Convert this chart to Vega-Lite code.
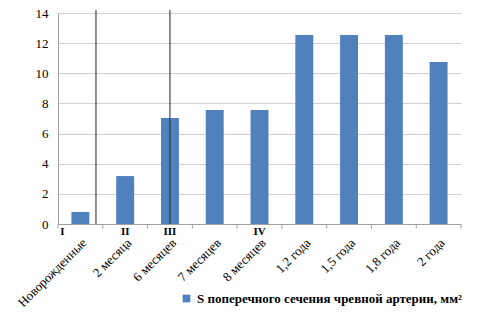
{
  "$schema": "https://vega.github.io/schema/vega-lite/v6.json",
  "autosize": "none",
  "width": 403,
  "height": 211,
  "padding": {"left": 58, "top": 13, "right": 28, "bottom": 101},
  "background": "white",
  "config": {
    "view": {"stroke": null},
    "font": "Liberation Serif",
    "axis": {"labelFont": "Liberation Serif", "labelFontSize": 13, "labelColor": "black", "ticks": false, "domainColor": "#a0a0a0", "gridColor": "#d0d0d0", "labelOverlap": false, "title": null},
    "axisX": {"labelAngle": -45, "labelPadding": 12, "grid": false},
    "axisY": {"tickCount": 7, "labelPadding": 10, "grid": true},
    "legend": {"labelFont": "Liberation Serif"}
  },
  "datasets": {
    "main": [
      {"cat": "Новорожденные", "value": 0.8, "series": "S поперечного сечения чревной артерии, мм²"},
      {"cat": "2 месяца", "value": 3.18, "series": "S поперечного сечения чревной артерии, мм²"},
      {"cat": "6 месяцев", "value": 7.03, "series": "S поперечного сечения чревной артерии, мм²"},
      {"cat": "7 месяцев", "value": 7.56, "series": "S поперечного сечения чревной артерии, мм²"},
      {"cat": "8 месяцев", "value": 7.56, "series": "S поперечного сечения чревной артерии, мм²"},
      {"cat": "1,2 года", "value": 12.54, "series": "S поперечного сечения чревной артерии, мм²"},
      {"cat": "1,5 года", "value": 12.54, "series": "S поперечного сечения чревной артерии, мм²"},
      {"cat": "1,8 года", "value": 12.54, "series": "S поперечного сечения чревной артерии, мм²"},
      {"cat": "2 года", "value": 10.75, "series": "S поперечного сечения чревной артерии, мм²"}
    ],
    "stages": [
      {"cat": "Новорожденные", "label": "I", "y": -0.55},
      {"cat": "2 месяца", "label": "II", "y": -0.55},
      {"cat": "6 месяцев", "label": "III", "y": -0.55},
      {"cat": "8 месяцев", "label": "IV", "y": -0.55}
    ],
    "lines": [
      {"cat": "Новорожденные", "y0": 0, "y1": 14.2},
      {"cat": "6 месяцев", "y0": 0, "y1": 14.2}
    ]
  },
  "layer": [
    {
      "data": {"name": "main"},
      "mark": {"type": "bar", "color": "#4f81bd"},
      "encoding": {
        "x": {
          "field": "cat", "type": "nominal", "sort": null, "title": null,
          "scale": {"paddingInner": 0.6, "paddingOuter": 0.3,
            "domain": ["Новорожденные", "2 месяца", "6 месяцев", "7 месяцев", "8 месяцев", "1,2 года", "1,5 года", "1,8 года", "2 года"]}
        },
        "y": {
          "field": "value", "type": "quantitative", "title": null,
          "scale": {"domain": [0, 14], "nice": false, "zero": false}
        },
        "color": {
          "field": "series", "type": "nominal", "title": null,
          "scale": {"range": ["#4f81bd"]},
          "legend": {"orient": "none", "legendX": 122, "legendY": 279, "symbolType": "square", "symbolSize": 60, "labelFont": "Liberation Serif", "labelFontSize": 13, "labelFontWeight": "bold", "labelColor": "black", "labelLimit": 400}
        }
      }
    },
    {
      "data": {"name": "main"},
      "mark": {"type": "rule", "color": "#a0a0a0"},
      "encoding": {
        "x": {"field": "cat", "type": "nominal", "sort": null, "bandPosition": -0.75},
        "y": {"datum": 0},
        "y2": {"datum": -0.3}
      }
    },
    {
      "data": {"name": "main"},
      "transform": [{"filter": "datum.cat === '2 года'"}],
      "mark": {"type": "rule", "color": "#a0a0a0"},
      "encoding": {
        "x": {"field": "cat", "type": "nominal", "sort": null, "bandPosition": 1.75},
        "y": {"datum": 0},
        "y2": {"datum": -0.3}
      }
    },
    {
      "data": {"name": "lines"},
      "transform": [{"filter": "datum.cat === 'Новорожденные'"}],
      "mark": {"type": "rule", "color": "#222222"},
      "encoding": {
        "x": {"field": "cat", "type": "nominal", "sort": null, "bandPosition": 1.37},
        "y": {"field": "y0", "type": "quantitative"},
        "y2": {"field": "y1"}
      }
    },
    {
      "data": {"name": "lines"},
      "transform": [{"filter": "datum.cat === '6 месяцев'"}],
      "mark": {"type": "rule", "color": "#222222"},
      "encoding": {
        "x": {"field": "cat", "type": "nominal", "sort": null, "bandPosition": 0.5},
        "y": {"field": "y0", "type": "quantitative"},
        "y2": {"field": "y1"}
      }
    },
    {
      "data": {"name": "stages"},
      "transform": [{"filter": "datum.label === 'I'"}],
      "mark": {"type": "text", "font": "Liberation Serif", "fontSize": 11, "fontWeight": "bold", "color": "black", "baseline": "middle", "align": "center"},
      "encoding": {
        "x": {"field": "cat", "type": "nominal", "sort": null, "bandPosition": -0.5},
        "y": {"field": "y", "type": "quantitative"},
        "text": {"field": "label"}
      }
    },
    {
      "data": {"name": "stages"},
      "transform": [{"filter": "datum.label !== 'I'"}],
      "mark": {"type": "text", "font": "Liberation Serif", "fontSize": 11, "fontWeight": "bold", "color": "black", "baseline": "middle", "align": "center"},
      "encoding": {
        "x": {"field": "cat", "type": "nominal", "sort": null},
        "y": {"field": "y", "type": "quantitative"},
        "text": {"field": "label"}
      }
    }
  ]
}
